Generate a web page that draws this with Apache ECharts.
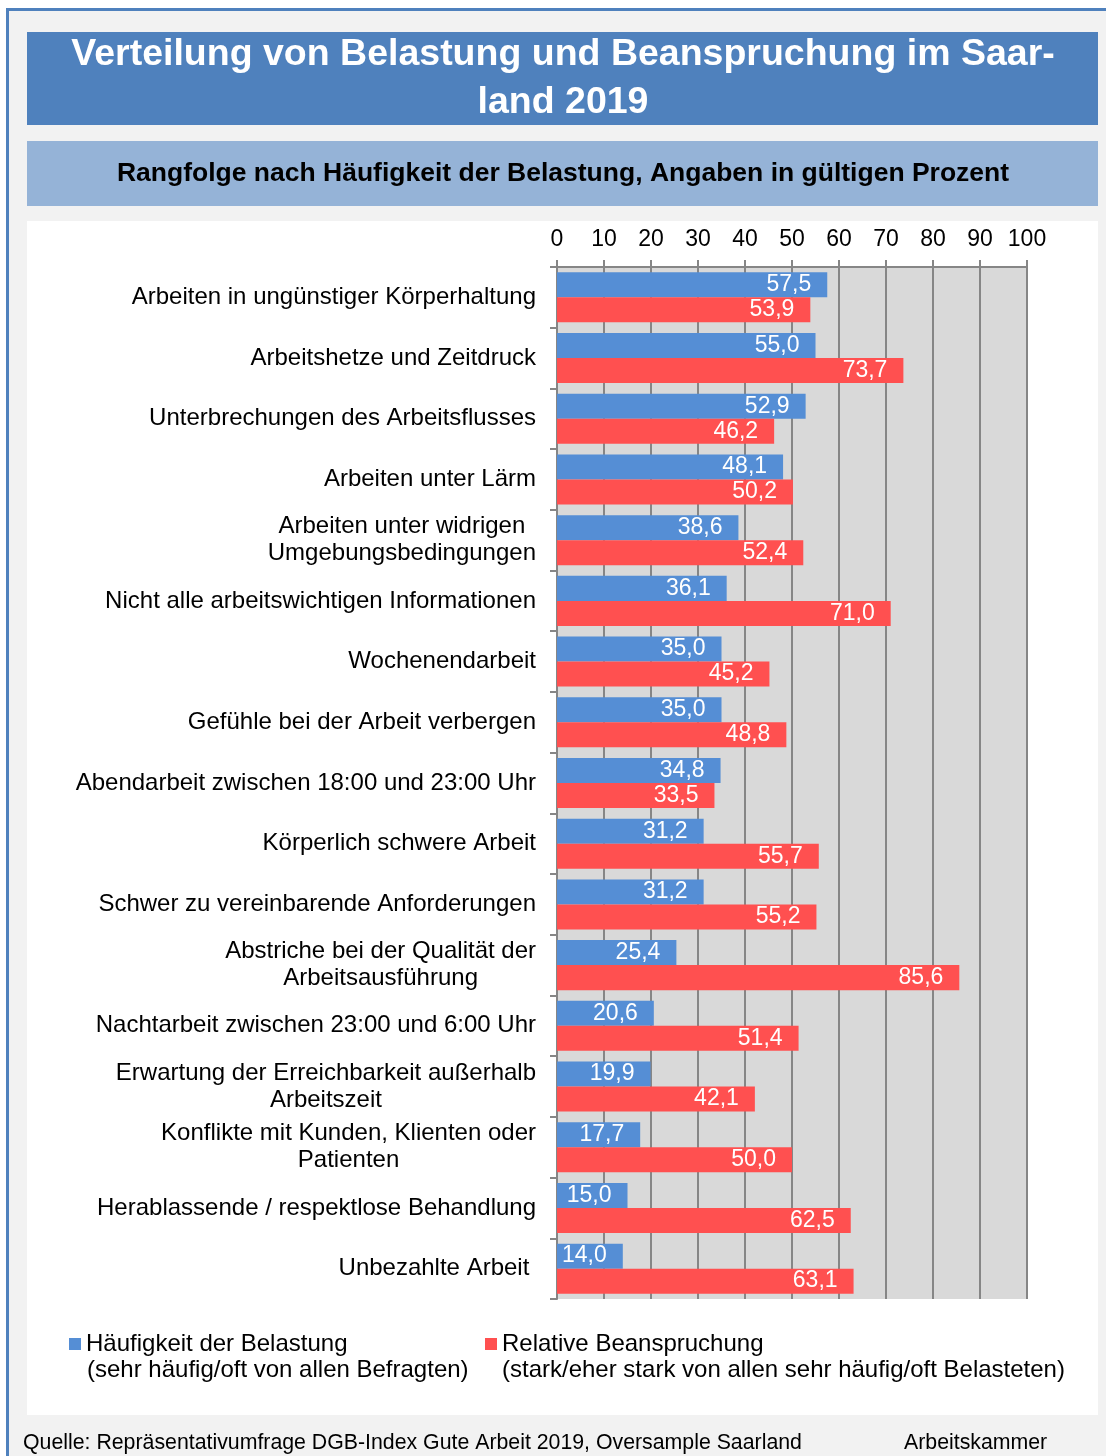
<!DOCTYPE html>
<html>
<head>
<meta charset="utf-8">
<script src="https://cdn.jsdelivr.net/npm/echarts@6/dist/echarts.min.js"></script>
<style>
html,body{margin:0;padding:0;background:#ffffff;}
#chart{width:1106px;height:1456px;}
</style>
</head>
<body>
<div id="chart"></div>
<script>
const categories = [
  "Arbeiten in ungünstiger Körperhaltung",
  "Arbeitshetze und Zeitdruck",
  "Unterbrechungen des Arbeitsflusses",
  "Arbeiten unter Lärm",
  "Arbeiten unter widrigen\nUmgebungsbedingungen",
  "Nicht alle arbeitswichtigen Informationen",
  "Wochenendarbeit",
  "Gefühle bei der Arbeit verbergen",
  "Abendarbeit zwischen 18:00 und 23:00 Uhr",
  "Körperlich schwere Arbeit",
  "Schwer zu vereinbarende Anforderungen",
  "Abstriche bei der Qualität der\nArbeitsausführung",
  "Nachtarbeit zwischen 23:00 und 6:00 Uhr",
  "Erwartung der Erreichbarkeit außerhalb\nArbeitszeit",
  "Konflikte mit Kunden, Klienten oder\nPatienten",
  "Herablassende / respektlose Behandlung",
  "Unbezahlte Arbeit "
];
const haeufigkeit = [57.5, 55.0, 52.9, 48.1, 38.6, 36.1, 35.0, 35.0, 34.8, 31.2, 31.2, 25.4, 20.6, 19.9, 17.7, 15.0, 14.0];
const beanspruchung = [53.9, 73.7, 46.2, 50.2, 52.4, 71.0, 45.2, 48.8, 33.5, 55.7, 55.2, 85.6, 51.4, 42.1, 50.0, 62.5, 63.1];
const seriesNames = ["Häufigkeit der Belastung", "Relative Beanspruchung"];
const legendSubLines = ["(sehr häufig/oft von allen Befragten)", "(stark/eher stark von allen sehr häufig/oft Belasteten)"];
const titleLines = ["Verteilung von Belastung und Beanspruchung im Saar-", "land 2019"];
const subtitleText = "Rangfolge nach Häufigkeit der Belastung, Angaben in gültigen Prozent";
const sourceText = "Quelle: Repräsentativumfrage DGB-Index Gute Arbeit 2019, Oversample Saarland";
const creditText = "Arbeitskammer";

const FONT = "'Liberation Sans', Arial, sans-serif";
const chart = echarts.init(document.getElementById('chart'), null, {renderer: 'canvas'});

const valueLabel = {
  show: true,
  position: 'insideRight',
  distance: 16,
  color: '#ffffff',
  fontFamily: FONT,
  fontSize: 23,
  formatter: p => p.value.toFixed(1).replace('.', ',')
};

chart.setOption({
  backgroundColor: '#ffffff',
  animation: false,
  textStyle: {fontFamily: FONT},
  graphic: [
    {type: 'rect', z: -100, shape: {x: 8, y: 9, width: 1098, height: 1447}, style: {fill: '#f2f2f2'}},
    {type: 'rect', z: -99, shape: {x: 6, y: 8, width: 1100, height: 3}, style: {fill: '#4f81bd'}},
    {type: 'rect', z: -99, shape: {x: 6, y: 8, width: 3, height: 1448}, style: {fill: '#4f81bd'}},
    {type: 'rect', z: -98, shape: {x: 27, y: 32, width: 1071, height: 93}, style: {fill: '#4f81bd'}},
    {type: 'rect', z: -98, shape: {x: 27, y: 141, width: 1071, height: 65}, style: {fill: '#95b3d7'}},
    {type: 'rect', z: -98, shape: {x: 27, y: 221, width: 1071, height: 1194}, style: {fill: '#ffffff'}},
    {type: 'text', z: 10, x: 563, y: 55, style: {text: titleLines[0], fill: '#ffffff', font: "bold 37.5px " + FONT, textAlign: 'center', textVerticalAlign: 'middle'}},
    {type: 'text', z: 10, x: 563, y: 103, style: {text: titleLines[1], fill: '#ffffff', font: "bold 37.5px " + FONT, textAlign: 'center', textVerticalAlign: 'middle'}},
    {type: 'text', z: 10, x: 563, y: 174, style: {text: subtitleText, fill: '#000000', font: "bold 26.5px " + FONT, textAlign: 'center', textVerticalAlign: 'middle'}},
    {type: 'text', z: 10, x: 87, y: 1370, style: {text: legendSubLines[0], fill: '#000000', font: "24px " + FONT, textAlign: 'left', textVerticalAlign: 'middle'}},
    {type: 'text', z: 10, x: 502, y: 1370, style: {text: legendSubLines[1], fill: '#000000', font: "24px " + FONT, textAlign: 'left', textVerticalAlign: 'middle'}},
    {type: 'text', z: 10, x: 23, y: 1443, style: {text: sourceText, fill: '#000000', font: "21.3px " + FONT, textAlign: 'left', textVerticalAlign: 'middle'}},
    {type: 'text', z: 10, x: 904, y: 1443, style: {text: creditText, fill: '#000000', font: "21.3px " + FONT, textAlign: 'left', textVerticalAlign: 'middle'}}
  ],
  legend: [
    {data: [seriesNames[0]], left: 69, top: 1332, padding: 0, icon: 'rect', itemWidth: 12, itemHeight: 12, itemGap: 0,
     textStyle: {fontFamily: FONT, fontSize: 24, color: '#000000'}},
    {data: [seriesNames[1]], left: 485, top: 1332, padding: 0, icon: 'rect', itemWidth: 12, itemHeight: 12, itemGap: 0,
     textStyle: {fontFamily: FONT, fontSize: 24, color: '#000000'}}
  ],
  grid: {left: 557, right: 79, top: 267, bottom: 157, show: true, backgroundColor: '#d9d9d9', borderWidth: 0, containLabel: false},
  xAxis: {
    type: 'value', position: 'top', min: 0, max: 100, interval: 10,
    axisLine: {show: true, lineStyle: {color: '#868686', width: 2}},
    axisTick: {show: true, inside: false, length: 7, lineStyle: {color: '#868686', width: 2}},
    axisLabel: {margin: 16, color: '#000000', fontFamily: FONT, fontSize: 23},
    splitLine: {show: true, lineStyle: {color: '#868686', width: 2}}
  },
  yAxis: {
    type: 'category', inverse: true, data: categories,
    axisLine: {show: true, lineStyle: {color: '#868686', width: 2}},
    axisTick: {show: true, length: 7, lineStyle: {color: '#868686', width: 2}},
    axisLabel: {
      margin: 21, color: '#000000', fontFamily: FONT, fontSize: 24, lineHeight: 27, align: 'right',
      formatter: v => v.split('\n').map(l => '{c|' + l + '}').join('\n'),
      rich: {c: {align: 'center', fontFamily: FONT, fontSize: 24, lineHeight: 27, color: '#000000'}}
    },
    splitLine: {show: false}
  },
  series: [
    {name: seriesNames[0], type: 'bar', data: haeufigkeit, barGap: '0%', barCategoryGap: '17.6%',
     itemStyle: {color: '#558ed5'}, label: valueLabel, z: 3},
    {name: seriesNames[1], type: 'bar', data: beanspruchung, barGap: '0%', barCategoryGap: '17.6%',
     itemStyle: {color: '#ff5050'}, label: valueLabel, z: 3}
  ]
});
</script>
</body>
</html>
